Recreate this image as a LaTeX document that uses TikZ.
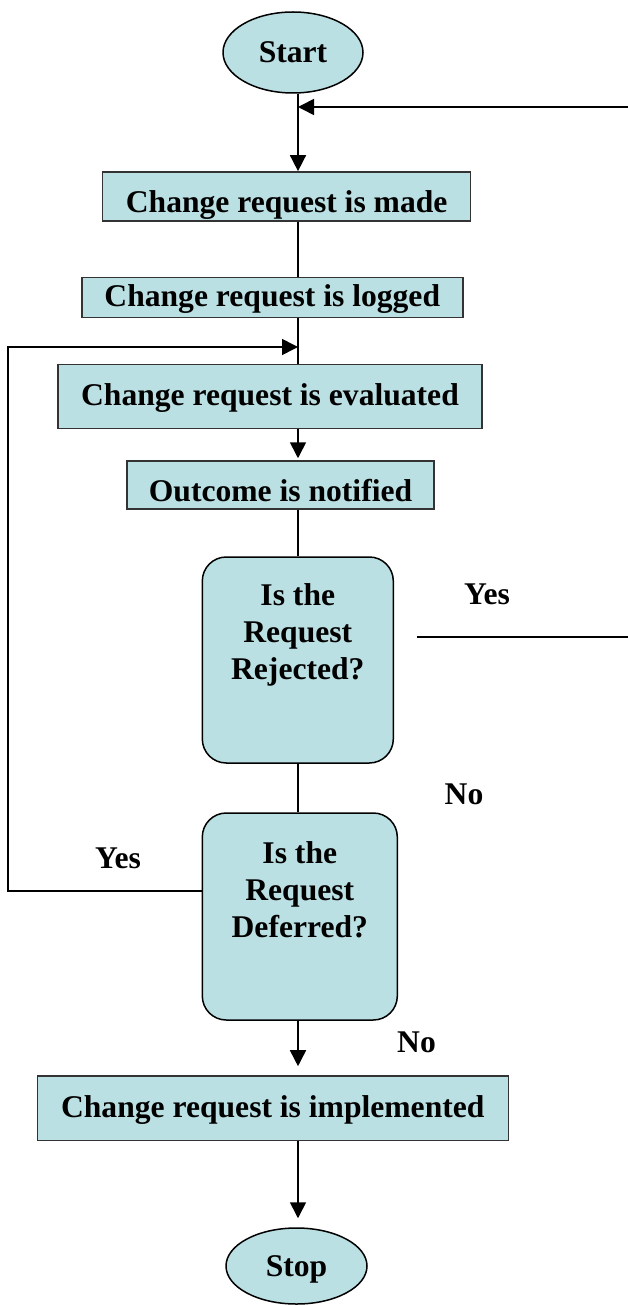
\documentclass[tikz,border=0pt]{standalone}
\usepackage{fontspec}
\setmainfont{Liberation Serif}
\usetikzlibrary{shapes.geometric,arrows.meta}
\definecolor{boxfill}{HTML}{BBE0E3}
\definecolor{boxline}{HTML}{333333}
\begin{document}
\begin{tikzpicture}[x=1pt,y=-1pt,
  every node/.style={font=\bfseries\fontsize{31.6}{37}\selectfont, inner sep=0pt},
  procbox/.style={draw=boxline, line width=1.5pt, fill=boxfill, text height=25pt, text depth=7pt},
  lowtext/.style={text height=32pt, text depth=0pt},
  term/.style={ellipse, draw=black, line width=1.5pt, fill=boxfill, text height=25pt, text depth=5pt},
  decbox/.style={draw=black, line width=1.5pt, fill=boxfill, rounded corners=24pt, text height=21pt},
  conn/.style={line width=1.6pt},
  arr/.style={conn, -{Triangle[length=16pt,width=16pt]}},
  lbl/.style={anchor=base}
]
\useasboundingbox (0,0) rectangle (628,1305);

% nodes
\node[term, minimum width=140pt, minimum height=81pt] (start) at (293,52.5) {Start};
\node[procbox, lowtext, minimum width=368pt, minimum height=49pt] (b1) at (286.7,196.4) {Change request is made};
\node[procbox, minimum width=381pt, minimum height=39.5pt] (b2) at (272.3,297.5) {Change request is logged};
\node[procbox, minimum width=424pt, minimum height=64pt] (b3) at (270,396.3) {Change request is evaluated};
\node[procbox, lowtext, minimum width=307pt, minimum height=48pt] (b4) at (280.5,485) {Outcome is notified};
\node[decbox, minimum width=191pt, minimum height=206pt, text depth=131pt] (dec1) at (297.8,660)
  {\begin{tabular}[t]{@{}c@{}}Is the\\Request\\Rejected?\end{tabular}};
\node[decbox, minimum width=195pt, minimum height=207pt, text depth=128pt] (dec2) at (299.8,916.5)
  {\begin{tabular}[t]{@{}c@{}}Is the\\Request\\Deferred?\end{tabular}};
\node[procbox, minimum width=471pt, minimum height=64.7pt] (b5) at (272.8,1108.3) {Change request is implemented};
\node[term, minimum width=141pt, minimum height=76pt] (stop) at (296.5,1266) {Stop};

% labels
\node[lbl] (yes1) at (487,604) {Yes};
\node[lbl] (no1) at (464,804) {No};
\node[lbl] (yes2) at (118,868) {Yes};
\node[lbl] (no2) at (416.5,1052) {No};

% helper coordinates
\coordinate (tr) at (298,0);
\coordinate (rtop) at (628,107);
\coordinate (rjs) at (417,637);
\coordinate (rje) at (628,637);
\coordinate (lb) at (8,891);
\coordinate (lt) at (8,347);

% connectors
\draw[arr] (start.south -| tr) -- (b1.north -| tr);
\draw[arr] (rtop) -- (tr |- rtop);
\draw[conn] (b1.south -| tr) -- (b2.north -| tr);
\draw[conn] (b2.south -| tr) -- (b3.north -| tr);
\draw[arr] (dec2.west |- lb) -- (lb) -- (lt) -- (tr |- lt);
\draw[arr, shorten >=2pt] (b3.south -| tr) -- (b4.north -| tr);
\draw[conn] (b4.south -| tr) -- (dec1.north -| tr);
\draw[conn] (rjs) -- (rje);
\draw[conn] (dec1.south -| tr) -- (dec2.north -| tr);
\draw[arr, shorten >=9pt] (dec2.south -| tr) -- (b5.north -| tr);
\draw[arr, shorten >=9pt] (b5.south -| tr) -- (stop.north -| tr);
\end{tikzpicture}
\end{document}
